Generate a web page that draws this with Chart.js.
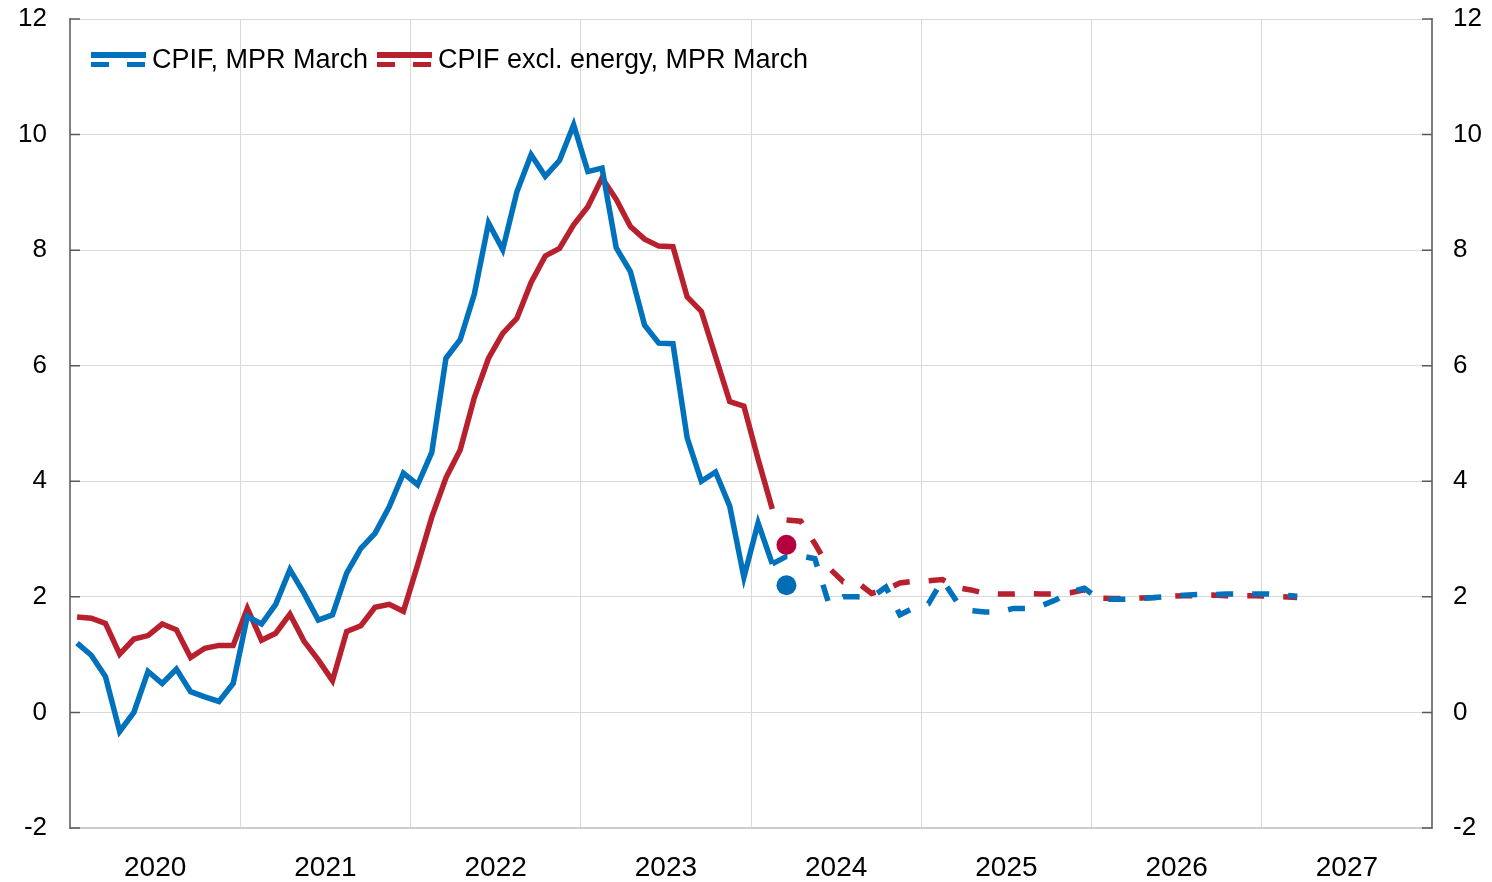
<!DOCTYPE html>
<html>
<head>
<meta charset="utf-8">
<script src="https://cdn.jsdelivr.net/npm/chart.js@4.4.1/dist/chart.umd.min.js"></script>
<style>
  body { margin: 0; background: #fff; }
  #wrap { position: relative; width: 1492px; height: 882px; }
  #legend {
    position: absolute; left: 91px; top: 44px;
    display: flex; align-items: center;
    font: 27px "Liberation Sans", Arial, sans-serif; color: #000;
  }
  .item { display: flex; align-items: center; margin-right: 9px; }
  .sym { display: inline-block; width: 55px; margin-right: 6px; }
  .sym .solid { display: block; height: 6px; }
  .sym .dash { display: block; height: 5px; margin-top: 4px; }
</style>
</head>
<body>
<div id="wrap">
  <canvas id="grafica" width="1492" height="882"></canvas>
  <div id="legend"></div>
</div>
<script>
// years shown on the x axis, monthly data starts Jan 2020
const years = ["2020", "2021", "2022", "2023", "2024", "2025", "2026", "2027"];
const yTicks = [-2, 0, 2, 4, 6, 8, 10, 12];
const seriesNames = ["CPIF, MPR March", "CPIF excl. energy, MPR March"];

// outcomes Jan 2020 - Feb 2024
const cpif = [
  1.20, 0.99, 0.62, -0.33, 0.00, 0.71, 0.50, 0.75, 0.36, 0.27, 0.19, 0.50,
  1.66, 1.53, 1.87, 2.47, 2.06, 1.60, 1.69, 2.41, 2.84, 3.10, 3.56, 4.14,
  3.94, 4.50, 6.13, 6.45, 7.24, 8.47, 8.01, 9.01, 9.65, 9.28, 9.55, 10.17,
  9.36, 9.42, 8.04, 7.63, 6.70, 6.39, 6.38, 4.75, 4.00, 4.16, 3.57, 2.34,
  3.28, 2.57
];
const cpifExEnergy = [
  1.65, 1.63, 1.54, 1.01, 1.27, 1.33, 1.53, 1.43, 0.95, 1.11, 1.16, 1.16,
  1.80, 1.25, 1.37, 1.70, 1.23, 0.91, 0.55, 1.40, 1.50, 1.82, 1.87, 1.75,
  2.55, 3.38, 4.06, 4.54, 5.45, 6.13, 6.56, 6.82, 7.44, 7.90, 8.03, 8.44,
  8.75, 9.25, 8.88, 8.41, 8.19, 8.07, 8.06, 7.19, 6.94, 6.16, 5.38, 5.30,
  4.38, 3.52
];

// forecasts Feb 2024 - Mar 2027
const forecastStart = 49;
const cpifForecast = [
  2.57, 2.70, 2.71, 2.66, 1.87, 2.00, 2.00, 1.99, 2.17, 1.69, 1.81,
  1.88, 2.29, 1.92, 1.76, 1.74, 1.74, 1.80, 1.80, 1.85, 1.95, 2.08, 2.15,
  1.96, 1.96, 1.96, 1.97, 1.99, 2.01, 2.03, 2.04, 2.04, 2.05, 2.05, 2.05,
  2.05, 2.03, 2.01
];
const cpifExEnergyForecast = [
  3.52, 3.33, 3.31, 2.92, 2.50, 2.26, 2.25, 2.06, 2.13, 2.24, 2.27,
  2.28, 2.30, 2.16, 2.12, 2.06, 2.05, 2.05, 2.06, 2.05, 2.05, 2.07, 2.12,
  1.98, 1.97, 1.97, 1.98, 1.99, 2.01, 2.02, 2.02, 2.03, 2.02, 2.02, 2.02,
  2.01, 2.00, 1.99
];

// March 2024 outcome (dots)
const marchMonth = 50;
const marchCpif = 2.2;
const marchCpifExEnergy = 2.9;

const azul = "#0071bc";
const rojo = "#b8202e";
const azulPunto = "#006db6";
const rojoPunto = "#b5003f";
const fuente = '"Liberation Sans", Arial, sans-serif';

const puntos = (arr, start) => arr.map((v, i) => ({ x: start + i + 0.5, y: v }));

const xTicks = [];
years.forEach((y, i) => { xTicks.push(i * 12, i * 12 + 6); });
xTicks.push(years.length * 12);

const innerTicks = {
  id: "innerTicks",
  beforeDatasetsDraw(chart) {
    const { ctx, chartArea: a, scales } = chart;
    ctx.save();
    ctx.strokeStyle = "#595959";
    ctx.lineWidth = 1.5;
    scales.y.ticks.forEach(t => {
      const py = scales.y.getPixelForValue(t.value);
      ctx.beginPath();
      ctx.moveTo(a.left, py); ctx.lineTo(a.left + 10, py);
      ctx.moveTo(a.right - 10, py); ctx.lineTo(a.right, py);
      ctx.stroke();
    });
    ctx.restore();
  }
};

const linea = (data, color, order, dashed, offset) => ({
  data,
  borderColor: color,
  backgroundColor: color,
  borderWidth: 5.5,
  pointRadius: 0,
  tension: 0,
  fill: false,
  order,
  borderDash: dashed ? [17, 19] : [],
  borderDashOffset: offset || 0
});

// y axes: fixed width, no extra padding for the end labels
const fijarY = ancho => s => {
  s.width = ancho;
  s.paddingTop = 0;
  s.paddingBottom = 0;
};

new Chart(document.getElementById("grafica"), {
  type: "line",
  data: {
    datasets: [
      { data: [{ x: marchMonth + 0.5, y: marchCpif }], showLine: false, pointRadius: 10,
        pointBackgroundColor: azulPunto, pointBorderWidth: 0, order: 0 },
      { data: [{ x: marchMonth + 0.5, y: marchCpifExEnergy }], showLine: false, pointRadius: 10,
        pointBackgroundColor: rojoPunto, pointBorderWidth: 0, order: 0 },
      linea(puntos(cpif, 0), azul, 1, false),
      linea(puntos(cpifForecast, forecastStart), azul, 1, true),
      linea(puntos(cpifExEnergy, 0), rojo, 2, false),
      linea(puntos(cpifExEnergyForecast, forecastStart), rojo, 2, true, 18)
    ]
  },
  options: {
    responsive: false,
    animation: false,
    devicePixelRatio: 1,
    layout: { padding: { top: 19, left: 0, right: 0, bottom: 0 } },
    plugins: { legend: { display: false }, tooltip: { enabled: false } },
    scales: {
      x: {
        type: "linear",
        min: 0,
        max: years.length * 12,
        afterBuildTicks: s => { s.ticks = xTicks.map(v => ({ value: v })); },
        ticks: {
          autoSkip: false, maxRotation: 0, padding: 23, color: "#000",
          font: { size: 28, family: fuente },
          callback: v => (v % 12 === 6 ? years[(v - 6) / 12] : "")
        },
        grid: {
          drawTicks: false,
          lineWidth: 1,
          color: c => (c.tick && c.tick.value % 12 === 0 ? "#d9d9d9" : "rgba(0,0,0,0)")
        },
        border: { color: "#cccccc", width: 2 },
        afterFit: s => { s.height = 54; s.paddingLeft = 0; s.paddingRight = 0; }
      },
      y: {
        position: "left",
        min: -2,
        max: 12,
        afterBuildTicks: s => { s.ticks = yTicks.map(v => ({ value: v })); },
        ticks: { padding: 23, color: "#000", font: { size: 26, family: fuente } },
        grid: { drawTicks: false, color: "#d9d9d9", lineWidth: 1 },
        border: { color: "#7f7f7f", width: 2 },
        afterFit: fijarY(70)
      },
      y2: {
        position: "right",
        min: -2,
        max: 12,
        afterBuildTicks: s => { s.ticks = yTicks.map(v => ({ value: v })); },
        ticks: { padding: 21, color: "#000", font: { size: 26, family: fuente } },
        grid: { display: false, drawTicks: false },
        border: { color: "#7f7f7f", width: 2 },
        afterFit: fijarY(60)
      }
    }
  },
  plugins: [innerTicks]
});

// legend
document.getElementById("legend").innerHTML = seriesNames.map((n, i) => {
  const c = i === 0 ? azul : rojo;
  return `<div class="item"><span class="sym"><i class="solid" style="background:${c}"></i>` +
    `<i class="dash" style="background:repeating-linear-gradient(to right, ${c} 0 18px, transparent 18px 36px)"></i></span>` +
    `<span>${n}</span></div>`;
}).join("");
</script>
</body>
</html>
